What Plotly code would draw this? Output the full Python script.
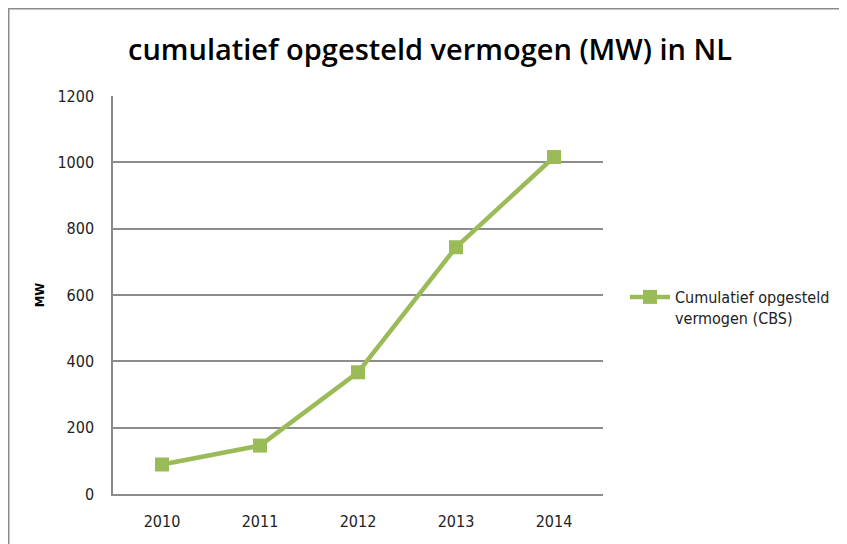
import plotly.graph_objects as go

years = ["2010", "2011", "2012", "2013", "2014"]
capacity_mw = [89, 146, 367, 744, 1016]
y_ticks = [0, 200, 400, 600, 800, 1000, 1200]

# the page puts the figure 8px in from the top-left corner,
# so the margins below are the target positions minus 8
W, H = 847, 544
L, R, T, B = 105, 252, 88, 58
pw, ph = W - L - R, H - T - B

GREEN = "#9BBB59"
GREY = "#8C8C8C"
TICK_FONT = "DejaVu Sans Condensed, DejaVu Sans, sans-serif"


def px_x(x):
    return (x - L) / pw


def px_y(y):
    return (H - B - y) / ph


fig = go.Figure()

fig.add_trace(
    go.Scatter(
        x=years,
        y=capacity_mw,
        mode="lines+markers",
        name="Cumulatief opgesteld<br>vermogen (CBS)",
        line=dict(color=GREEN, width=4.5),
        marker=dict(symbol="square", size=14, color=GREEN),
    )
)

# chart frame (only top and left edge are visible)
fig.add_shape(type="line", xref="paper", yref="paper",
              x0=px_x(0), x1=px_x(W + 5), y0=px_y(0.75), y1=px_y(0.75),
              line=dict(color=GREY, width=1.5))
fig.add_shape(type="line", xref="paper", yref="paper",
              x0=px_x(0.75), x1=px_x(0.75), y0=px_y(0), y1=px_y(H + 5),
              line=dict(color=GREY, width=1.5))

fig.update_layout(
    width=W,
    height=H,
    margin=dict(l=L, r=R, t=T, b=B),
    paper_bgcolor="white",
    plot_bgcolor="white",
    font=dict(family=TICK_FONT, size=16, color="#222222"),
    title=dict(
        text="cumulatief opgesteld vermogen (MW) in NL",
        font=dict(family="Open Sans, sans-serif", size=29, color="#000000", weight=600),
        xref="container", x=422 / W, xanchor="center",
        yref="container", y=1 - 42 / H, yanchor="middle",
    ),
    showlegend=True,
    legend=dict(
        x=px_x(617), xanchor="left",
        y=px_y(272), yanchor="top",
        valign="top",
        font=dict(family=TICK_FONT, size=16, color="#222222"),
        itemwidth=40,
    ),
    xaxis=dict(
        type="category",
        range=[-0.5, 4.5],
        showgrid=False,
        showline=True,
        linecolor=GREY,
        linewidth=1.5,
        ticks="",
        ticklabelstandoff=12,
    ),
    yaxis=dict(
        range=[0, 1200],
        tickvals=y_ticks,
        showgrid=True,
        gridcolor=GREY,
        gridwidth=1.5,
        showline=True,
        linecolor=GREY,
        linewidth=1.5,
        zeroline=False,
        ticks="",
        ticklabelstandoff=14,
        title=dict(
            text="<b>MW</b>",
            font=dict(family=TICK_FONT, size=13, color="#000000"),
            standoff=10,
        ),
    ),
)

fig.write_html("out.html")
